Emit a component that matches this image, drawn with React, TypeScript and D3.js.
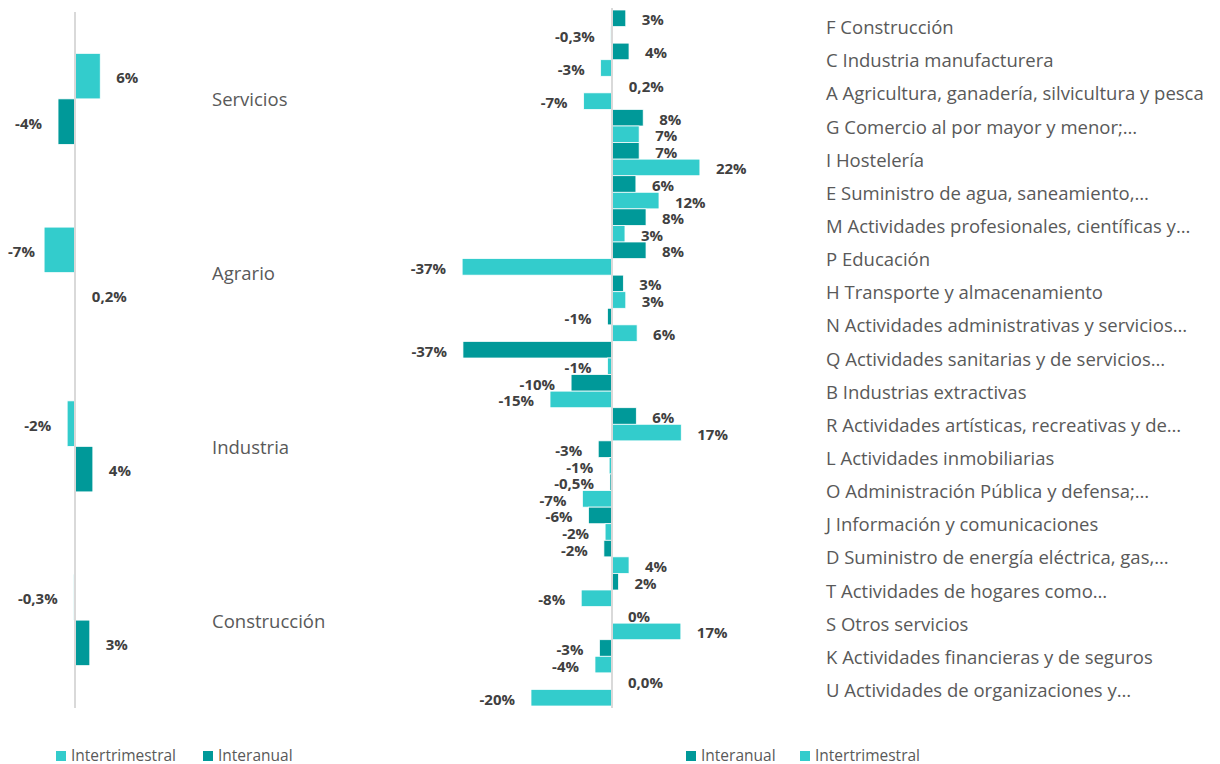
import React from "react";
import * as d3 from "d3";

const LIGHT = "#33CCCC";
const DARK = "#009999";
const TEXT = "#595959";
const LABEL = "#404040";
const FONT = "'Open Sans', 'Noto Sans', sans-serif";

// Left chart
const leftCategories = ["Servicios", "Agrario", "Industria", "Construcción"];
const leftIntertrimestral = [5.8, -7.1, -1.8, -0.3];
const leftInteranual = [-3.9, 0.2, 4.1, 3.4];
const leftIntertrimestralLabels = ["6%", "-7%", "-2%", "-0,3%"];
const leftInteranualLabels = ["-4%", "0,2%", "4%", "3%"];

// Right chart
const rightCategories = [
  "F Construcción",
  "C Industria manufacturera",
  "A Agricultura, ganadería, silvicultura y pesca",
  "G Comercio al por mayor y menor;…",
  "I Hostelería",
  "E Suministro de agua, saneamiento,…",
  "M Actividades profesionales, científicas y…",
  "P Educación",
  "H Transporte y almacenamiento",
  "N Actividades administrativas y servicios…",
  "Q Actividades sanitarias y de servicios…",
  "B Industrias extractivas",
  "R Actividades artísticas, recreativas y de…",
  "L Actividades inmobiliarias",
  "O Administración Pública y defensa;…",
  "J Información y comunicaciones",
  "D Suministro de energía eléctrica, gas,…",
  "T Actividades de hogares como…",
  "S Otros servicios",
  "K Actividades financieras y de seguros",
  "U Actividades de organizaciones y…",
];
const rightInteranual = [3.4, 4.2, 0.2, 7.7, 6.7, 5.9, 8.4, 8.4, 2.8, -1.1, -36.8, -10.1, 6.0, -3.4, -0.5, -5.8, -2.0, 1.6, 0, -3.1, 0.0];
const rightIntertrimestral = [-0.3, -2.8, -7.0, 6.7, 21.7, 11.6, 3.2, -37.0, 3.4, 6.2, -1.1, -15.3, 17.1, -0.7, -7.3, -1.7, 4.2, -7.6, 17.0, -4.2, -20.0];
const rightInteranualLabels = ["3%", "4%", "0,2%", "8%", "7%", "6%", "8%", "8%", "3%", "-1%", "-37%", "-10%", "6%", "-3%", "-0,5%", "-6%", "-2%", "2%", "0%", "-3%", "0,0%"];
const rightIntertrimestralLabels = ["-0,3%", "-3%", "-7%", "7%", "22%", "12%", "3%", "-37%", "3%", "6%", "-1%", "-15%", "17%", "-1%", "-7%", "-2%", "4%", "-8%", "17%", "-4%", "-20%"];

type Bar = { cat: string; series: string; value: number; label: string; color: string };

function BarLabel({ x0, x1, y, value, label, minX }: { x0: number; x1: number; y: number; value: number; label: string; minX?: number }) {
  const gap = 16;
  const pos = value >= 0;
  let tx = pos ? x1 + gap : x0 - gap;
  let anchor: "start" | "end" = pos ? "start" : "end";
  if (!pos && minX !== undefined) {
    const w = label.length * 9.4;
    if (tx - w < minX) {
      tx = minX;
      anchor = "start";
    }
  }
  return (
    <text x={tx} y={y} textAnchor={anchor} dominantBaseline="central" fontFamily={FONT} fontWeight={700} fontSize={15} fill={LABEL}>
      {label}
    </text>
  );
}

export default function App() {
  // Left chart scales
  const lZero = 75;
  const xL = d3.scaleLinear().domain([-10, 10]).range([lZero - 43.5, lZero + 43.5]);
  const pL = (173.75 - 91) / 173.75;
  const yL = d3.scaleBand<string>().domain(leftCategories).range([12, 707]).paddingInner(pL).paddingOuter(pL / 2);
  const subL = d3.scaleBand<string>().domain(["Intertrimestral", "Interanual"]).range([0, yL.bandwidth()]);
  const leftBars: Bar[] = [];
  leftCategories.forEach((c, i) => {
    leftBars.push({ cat: c, series: "Intertrimestral", value: leftIntertrimestral[i], label: leftIntertrimestralLabels[i], color: LIGHT });
    leftBars.push({ cat: c, series: "Interanual", value: leftInteranual[i], label: leftInteranualLabels[i], color: DARK });
  });

  // Right chart scales
  const mZero = 612;
  const xM = d3.scaleLinear().domain([-40, 40]).range([mZero - 162, mZero + 162]);
  const yM = d3.scaleBand<string>().domain(rightCategories).range([10, 706]);
  const subM = d3.scaleBand<string>().domain(["Interanual", "Intertrimestral"]).range([0, yM.bandwidth()]);
  const rightBars: Bar[] = [];
  rightCategories.forEach((c, i) => {
    rightBars.push({ cat: c, series: "Interanual", value: rightInteranual[i], label: rightInteranualLabels[i], color: DARK });
    rightBars.push({ cat: c, series: "Intertrimestral", value: rightIntertrimestral[i], label: rightIntertrimestralLabels[i], color: LIGHT });
  });

  return (
    <svg width={1220} height={764} style={{ position: "absolute", left: 0, top: 0, background: "#fff" }}>
      {/* Left chart */}
      {leftBars.map((b, i) => {
        const y = (yL(b.cat) ?? 0) + (subL(b.series) ?? 0);
        const h = subL.bandwidth();
        const x0 = Math.min(xL(0), xL(b.value));
        const x1 = Math.max(xL(0), xL(b.value));
        return (
          <g key={"l" + i}>
            <rect x={x0} y={y} width={Math.max(x1 - x0, 0.5)} height={h} fill={b.color} stroke="#fff" strokeWidth={0.75} />
            <BarLabel x0={x0} x1={x1} y={y + h / 2 + 1} value={b.value} label={b.label} minX={8} />
          </g>
        );
      })}
      <line x1={lZero} x2={lZero} y1={12} y2={708} stroke="#d9d9d9" strokeWidth={2} />
      {leftCategories.map((c) => (
        <text key={c} x={212} y={(yL(c) ?? 0) + yL.bandwidth() / 2} dominantBaseline="central" fontFamily={FONT} fontSize={18.5} fill={TEXT}>
          {c}
        </text>
      ))}

      {/* Right chart */}
      {rightBars.map((b, i) => {
        const y = (yM(b.cat) ?? 0) + (subM(b.series) ?? 0);
        const h = subM.bandwidth();
        const x0 = Math.min(xM(0), xM(b.value));
        const x1 = Math.max(xM(0), xM(b.value));
        return (
          <g key={"r" + i}>
            <rect x={x0} y={y} width={Math.max(x1 - x0, 0.3)} height={h} fill={b.color} stroke="#fff" strokeWidth={0.75} />
            <BarLabel x0={x0} x1={x1} y={y + h / 2 + 1} value={b.value} label={b.label} />
          </g>
        );
      })}
      <line x1={mZero} x2={mZero} y1={8} y2={708} stroke="#d9d9d9" strokeWidth={2} />
      {rightCategories.map((c) => (
        <text key={c} x={826} y={(yM(c) ?? 0) + yM.bandwidth() / 2} dominantBaseline="central" fontFamily={FONT} fontSize={18.5} fill={TEXT}>
          {c}
        </text>
      ))}

      {/* Legends */}
      <g fontFamily={FONT} fontSize={15.5} fill={TEXT}>
        <rect x={56} y={751} width={10} height={10} fill={LIGHT} />
        <text x={71} y={755} dominantBaseline="central">Intertrimestral</text>
        <rect x={203} y={751} width={10} height={10} fill={DARK} />
        <text x={218} y={755} dominantBaseline="central">Interanual</text>
        <rect x={686} y={751} width={10} height={10} fill={DARK} />
        <text x={701} y={755} dominantBaseline="central">Interanual</text>
        <rect x={800} y={751} width={10} height={10} fill={LIGHT} />
        <text x={815} y={755} dominantBaseline="central">Intertrimestral</text>
      </g>
    </svg>
  );
}
